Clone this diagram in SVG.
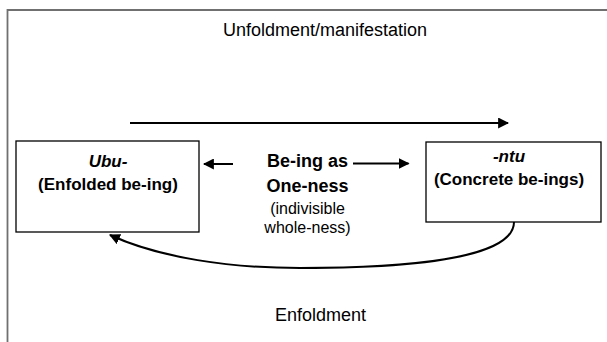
<svg xmlns="http://www.w3.org/2000/svg" width="607" height="342" viewBox="0 0 607 342">
<style>
  .frame { fill: none; stroke: #707070; stroke-width: 1.8; }
  .box { fill: #ffffff; stroke: #000000; stroke-width: 1.3; }
  .conn { fill: none; stroke: #000000; stroke-width: 2; }
  .lbl { font-family: "Liberation Sans", Arial, sans-serif; fill: #000000; text-anchor: middle; }
  .big { font-size: 18px; }
  .bold { font-weight: bold; }
  .ital { font-style: italic; }
  .box-t { font-size: 17px; }
  .paren { font-size: 16px; }
</style>
<defs>
  <marker id="ah" viewBox="0 0 10 10" refX="9" refY="5" markerWidth="5.5" markerHeight="5.5" orient="auto" markerUnits="strokeWidth">
    <path d="M0,0 L10,5 L0,10 Z" fill="#000000"/>
  </marker>
</defs>
<rect width="607" height="342" fill="#ffffff"/>
<g id="frame">
  <path class="frame" d="M7.5,342 L7.5,10 L607,10"/>
</g>
<g id="label-unfoldment">
  <text class="lbl big" x="325" y="35.5">Unfoldment/manifestation</text>
</g>
<g id="label-enfoldment">
  <text class="lbl big" x="320.5" y="320.5">Enfoldment</text>
</g>
<g id="node-ubu">
  <rect class="box" x="16" y="141" width="183" height="91"/>
  <text class="lbl box-t bold ital" x="108" y="166.5">Ubu-</text>
  <text class="lbl box-t bold" x="108" y="190">(Enfolded be-ing)</text>
</g>
<g id="node-ntu">
  <rect class="box" x="426" y="142" width="175" height="80"/>
  <text class="lbl box-t bold ital" x="509" y="161.5">-ntu</text>
  <text class="lbl box-t bold" x="509" y="185">(Concrete be-ings)</text>
</g>
<g id="node-oneness">
  <text class="lbl big bold" x="307.5" y="166.5">Be-ing as</text>
  <text class="lbl big bold" x="307.5" y="191.5">One-ness</text>
  <text class="lbl paren" x="307.5" y="214">(indivisible</text>
  <text class="lbl paren" x="307.5" y="233">whole-ness)</text>
</g>
<g id="connectors">
  <line class="conn" x1="130" y1="123" x2="508" y2="123" marker-end="url(#ah)"/>
  <line class="conn" x1="233" y1="164" x2="204" y2="164" marker-end="url(#ah)"/>
  <line class="conn" x1="353" y1="163.5" x2="408.5" y2="163.5" marker-end="url(#ah)"/>
  <path class="conn" d="M514,222 C514,260 400,268 300,268 C230,268 160,258 110,235" stroke-width="2.4" marker-end="url(#ah)"/>
</g>
</svg>
